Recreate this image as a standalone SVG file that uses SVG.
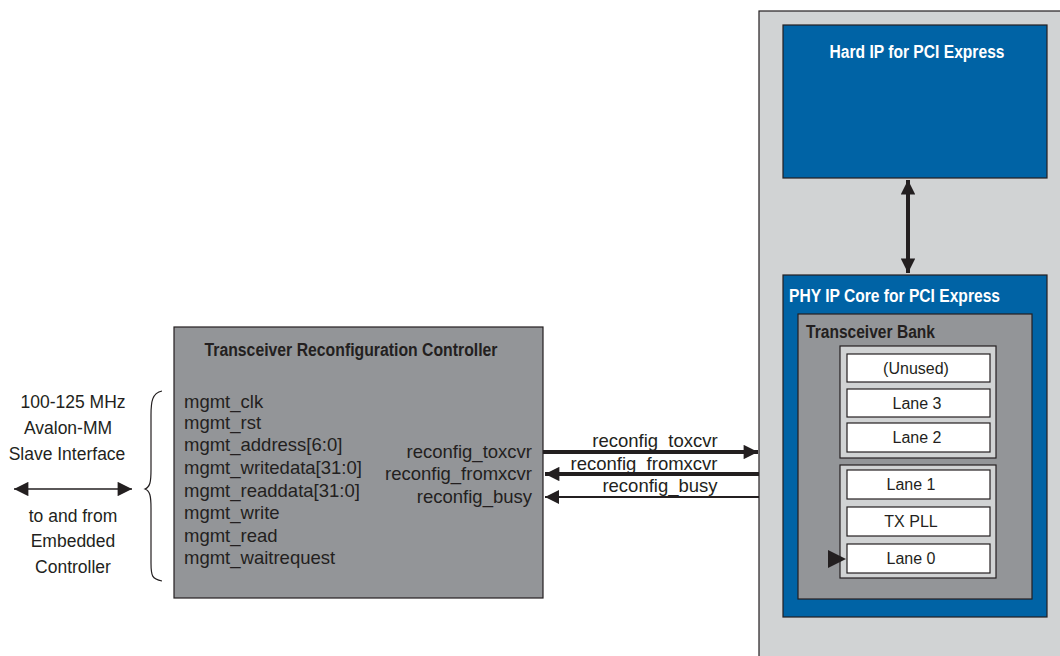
<svg xmlns="http://www.w3.org/2000/svg" width="1060" height="656" viewBox="0 0 1060 656">
<style>
.t{font-family:"Liberation Sans",Arial,sans-serif;font-size:16px;fill:#231f20}
.s{font-size:18.5px}
.l{font-size:17.5px}
.b{font-family:"Liberation Sans",Arial,sans-serif;font-size:18px;font-weight:bold}
.w{fill:#ffffff}
.d{fill:#231f20}
.box{stroke:#231f20;stroke-width:1.2}
.lane{fill:#ffffff;stroke:#231f20;stroke-width:1.2}
.grp{fill:#d1d3d4;stroke:#231f20;stroke-width:1.2}
.mid{text-anchor:middle}
.end{text-anchor:end}
</style>
<defs>
<marker id="ah" viewBox="0 0 10 10" refX="10" refY="5" markerWidth="4.5" markerHeight="3.6" orient="auto-start-reverse" markerUnits="strokeWidth"><path d="M0,0 L10,5 L0,10 z" fill="#231f20"/></marker>
<marker id="ahs" viewBox="0 0 10 10" refX="10" refY="5" markerWidth="9" markerHeight="7" orient="auto-start-reverse" markerUnits="strokeWidth"><path d="M0,0 L10,5 L0,10 z" fill="#231f20"/></marker>
<marker id="ahl" viewBox="0 0 10 10" refX="10" refY="5" markerWidth="12" markerHeight="9" orient="auto-start-reverse" markerUnits="strokeWidth"><path d="M0,0 L10,5 L0,10 z" fill="#231f20"/></marker>
</defs>

<g id="fpga">
<rect x="759" y="11" width="310" height="660" fill="#d1d3d4" class="box"/>
</g>
<g id="hardip">
<rect x="783" y="25" width="264" height="153" fill="#0063a5" class="box"/>
<text x="917" y="58" class="b w mid" textLength="175" lengthAdjust="spacingAndGlyphs">Hard IP for PCI Express</text>
</g>
<g id="phy">
<rect x="783" y="275" width="264" height="342" fill="#0063a5" class="box"/>
<text x="789" y="302" class="b w" textLength="211" lengthAdjust="spacingAndGlyphs">PHY IP Core for PCI Express</text>
</g>
<g id="bank">
<rect x="798" y="314" width="234" height="285" fill="#939598" class="box"/>
<text x="806" y="338" class="b d" textLength="129" lengthAdjust="spacingAndGlyphs">Transceiver Bank</text>
</g>
<g id="group-upper">
<rect x="840" y="346" width="156" height="112" class="grp"/>
</g>
<g id="lane-unused">
<rect x="847" y="354" width="143" height="28" class="lane"/>
<text x="916" y="374" class="t mid">(Unused)</text>
</g>
<g id="lane3">
<rect x="847" y="389" width="143" height="28" class="lane"/>
<text x="917" y="409" class="t mid">Lane 3</text>
</g>
<g id="lane2">
<rect x="847" y="423" width="143" height="29" class="lane"/>
<text x="917" y="443" class="t mid">Lane 2</text>
</g>
<g id="group-lower">
<rect x="840" y="465" width="156" height="113" class="grp"/>
</g>
<g id="lane1">
<rect x="847" y="470" width="143" height="29" class="lane"/>
<text x="911" y="490" class="t mid">Lane 1</text>
</g>
<g id="txpll">
<rect x="847" y="507" width="143" height="29" class="lane"/>
<text x="911" y="527" class="t mid">TX PLL</text>
</g>
<g id="lane0">
<rect x="847" y="544" width="143" height="29" class="lane"/>
<text x="911" y="564" class="t mid">Lane 0</text>
</g>

<g id="controller">
<rect x="174" y="327" width="369" height="271" fill="#939598" class="box"/>
<text x="351" y="356" class="b d mid" textLength="293" lengthAdjust="spacingAndGlyphs">Transceiver Reconfiguration Controller</text>
<text x="184" y="408" class="t s">mgmt_clk</text>
<text x="184" y="429" class="t s">mgmt_rst</text>
<text x="184" y="451" class="t s">mgmt_address[6:0]</text>
<text x="184" y="474" class="t s">mgmt_writedata[31:0]</text>
<text x="184" y="497" class="t s">mgmt_readdata[31:0]</text>
<text x="184" y="519" class="t s">mgmt_write</text>
<text x="184" y="542" class="t s">mgmt_read</text>
<text x="184" y="564" class="t s">mgmt_waitrequest</text>
<text x="532" y="458" class="t s end">reconfig_toxcvr</text>
<text x="532" y="480" class="t s end">reconfig_fromxcvr</text>
<text x="532" y="503" class="t s end">reconfig_busy</text>
</g>

<g id="avalon-label">
<text x="73" y="408" class="t l mid">100-125 MHz</text>
<text x="68" y="434" class="t l mid">Avalon-MM</text>
<text x="67" y="460" class="t l mid">Slave Interface</text>
<text x="73" y="522" class="t l mid">to and from</text>
<text x="73" y="547" class="t l mid">Embedded</text>
<text x="73" y="573" class="t l mid">Controller</text>
<path d="M162,391 C152,393 151,402 151,415 L151,470 C151,482 150,487 145,489 C150,491 151,496 151,508 L151,563 C151,576 152,579 162,581" fill="none" stroke="#231f20" stroke-width="1.2"/>
</g>

<g id="connectors" fill="none" stroke="#231f20">
<line x1="14" y1="489" x2="132" y2="489" stroke-width="1.6" marker-start="url(#ahl)" marker-end="url(#ahl)"/>
<line x1="908" y1="180" x2="908" y2="273" stroke-width="4" marker-start="url(#ah)" marker-end="url(#ah)"/>
<line x1="543" y1="452" x2="758" y2="452" stroke-width="4" marker-end="url(#ah)"/>
<line x1="759" y1="474" x2="545" y2="474" stroke-width="4" marker-end="url(#ah)"/>
<line x1="759" y1="497" x2="545" y2="497" stroke-width="2" marker-end="url(#ahs)"/>
<path d="M828,550 L846,559 L828,568 z" fill="#231f20" stroke="none"/>
</g>
<g id="connector-labels">
<text x="655" y="447" class="t s mid">reconfig_toxcvr</text>
<text x="644" y="470" class="t s mid">reconfig_fromxcvr</text>
<text x="660" y="492" class="t s mid">reconfig_busy</text>
</g>
</svg>
